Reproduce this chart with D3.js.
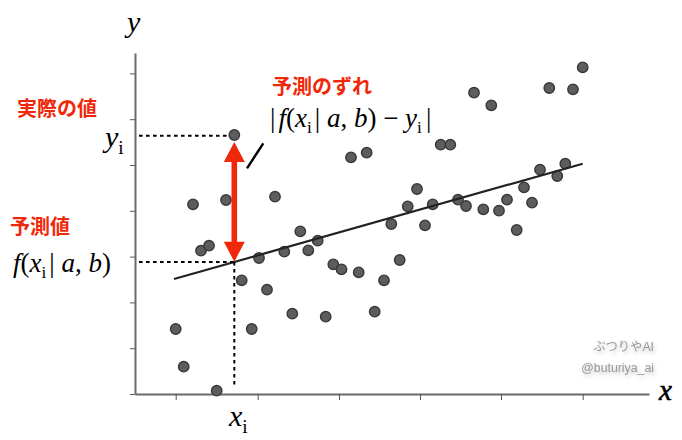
<!DOCTYPE html>
<html><head><meta charset="utf-8">
<script src="https://cdn.jsdelivr.net/npm/d3@7"></script>
<style>html,body{margin:0;padding:0;background:#fff}svg{display:block}</style></head>
<body><svg id="c" width="682" height="440"></svg>
<script>
const xValues=[99.3,58,91,140,40.7,48.7,81.7,66,74,165.3,182.7,173.3,149.3,124,106.7,132,116.7,157.3,190.7,198.3,206.5,223.7,256.3,290,381.7,264.7,249,239.7,447.7,414.3,438,339,356.3,231.7,216,305.7,315.3,282,272.7,297.7,323,331,348.3,364,372,397,389,405,422.3,430.3];
const yValues=[259,189.7,194,197.3,65,27.3,3.3,143.3,148.3,162.7,153.3,143.7,142.3,136,113.7,104.3,65,80.3,77.3,129.7,124.7,121.7,170,168.7,164,134,113.7,82.3,326.7,306,304.7,301.3,288.7,241.3,236.7,249.3,249.3,205,187.7,189.7,194.3,188,184.7,183.3,194.3,191.3,206.7,224.3,218,230.3];
const xTicks=[40.7,122.7,204,285,366,447.7];
const yTicks=[0,45.8,91.6,137.4,183.2,229,274.8,320.6];
const fitX=[39,447.7], fitY=[115,230.3];
const obsX=99.3, obsY=258.3, predY=132;
const arrowY=[252,132.3];
const RED="#f0280a";
const svg=d3.select("#c");
const x=d3.scaleLinear().domain([0,514]).range([135,649]);
const y=d3.scaleLinear().domain([0,341]).range([394,53]);
const axX=svg.append("g").attr("transform","translate(0,394)").call(d3.axisBottom(x).tickValues(xTicks).tickSize(6).tickSizeOuter(0).tickFormat(""));
const axY=svg.append("g").attr("transform","translate(135,0)").call(d3.axisLeft(y).tickValues(yTicks).tickSize(5).tickSizeOuter(0).tickFormat(""));
[axX,axY].forEach(a=>{a.select(".domain").attr("stroke","#6a6a6a").attr("stroke-width",2);a.selectAll(".tick line").attr("stroke","#555").attr("stroke-width",1);});
svg.selectAll("circle.p").data(xValues).join("circle").attr("class","p")
 .attr("cx",d=>x(d)).attr("cy",(d,i)=>y(yValues[i])).attr("r",5.2)
 .attr("fill","#5d5d5d").attr("stroke","#383838").attr("stroke-width",1.4);
svg.append("line").attr("x1",x(fitX[0])).attr("y1",y(fitY[0])).attr("x2",x(fitX[1])).attr("y2",y(fitY[1])).attr("stroke","#222").attr("stroke-width",2.2);
const dash=(x1,y1,x2,y2)=>svg.append("line").attr("x1",x1).attr("y1",y1).attr("x2",x2).attr("y2",y2).attr("stroke","#000").attr("stroke-width",2).attr("stroke-dasharray","3.6 3.4");
dash(x(4),y(obsY),x(obsX)-6,y(obsY));
dash(x(4),y(predY),x(obsX),y(predY));
dash(x(obsX),y(predY),x(obsX),y(6));
svg.append("line").attr("x1",x(obsX)).attr("x2",x(obsX)).attr("y1",y(arrowY[0])+15).attr("y2",y(arrowY[1])-15).attr("stroke",RED).attr("stroke-width",5.6);
[[arrowY[0],1],[arrowY[1],-1]].forEach(([v,s])=>{
 const tx=x(obsX),ty=y(v);
 svg.append("path").attr("d",d3.line()([[tx,ty],[tx-10.5,ty+s*20],[tx+10.5,ty+s*20]])+"Z").attr("fill",RED);
});
svg.append("line").attr("x1",263.3).attr("y1",143.3).attr("x2",247).attr("y2",168.3).attr("stroke","#000").attr("stroke-width",2.4);
const red=(t,tx,ty)=>svg.append("text").attr("x",tx).attr("y",ty).attr("fill",RED).attr("font-family","'Noto Sans CJK JP'").attr("font-weight",700).attr("font-size",20).text(t);
red("実際の値",17,116);
red("予測のずれ",272,94);
red("予測値",10,234);
const SERIF="'Liberation Serif',serif";
function math(tx,ty,size,parts,anchor){
 const t=svg.append("text").attr("x",tx).attr("y",ty).attr("font-family",SERIF).attr("font-size",size).attr("fill","#000").attr("text-anchor",anchor||"start");
 parts.forEach(([s,st,dx])=>{
  const sp=t.append("tspan").text(s);
  if(dx) sp.attr("dx",dx);
  if(st==="i") sp.attr("font-style","italic");
  if(st==="s"){sp.attr("font-size",size*0.64).attr("dy",size*0.22);}
  if(st==="u"){sp.attr("dy",-size*0.22);}
 });
 return t;
}
math(127,32,30,[["y","i"]]);
math(659,400,29,[["x","i"]]).attr("stroke","#000").attr("stroke-width",0.6);
math(105,147,30,[["y","i"],["i","s"]]);
math(229,426,30,[["x","i"],["i","s"]]);
math(13,272,27,[["f","i"],["(",""],["x","i"],["i","s"],["|","u",3],[" ",""],["a","i"],[", ",""],["b","i"],[")",""]]);
math(270,127,27,[["|",""],["f","i",3],["(",""],["x","i"],["i","s"],["|","u",3],[" ",""],["a","i"],[", ",""],["b","i"],[")",""],[" − ",""],["y","i"],["i","s"],["|","u",4]]);
const wm=(t,ty)=>svg.append("text").attr("x",654).attr("y",ty).attr("text-anchor","end").attr("fill","#9a9a9a").attr("font-family","'Liberation Sans','Noto Sans CJK JP',sans-serif").attr("font-size",12.3).style("filter","drop-shadow(1px 2px 2px rgba(0,0,0,.25))").text(t);
wm("ぶつりやAI",351);
wm("@buturiya_ai",372);
</script></body></html>
